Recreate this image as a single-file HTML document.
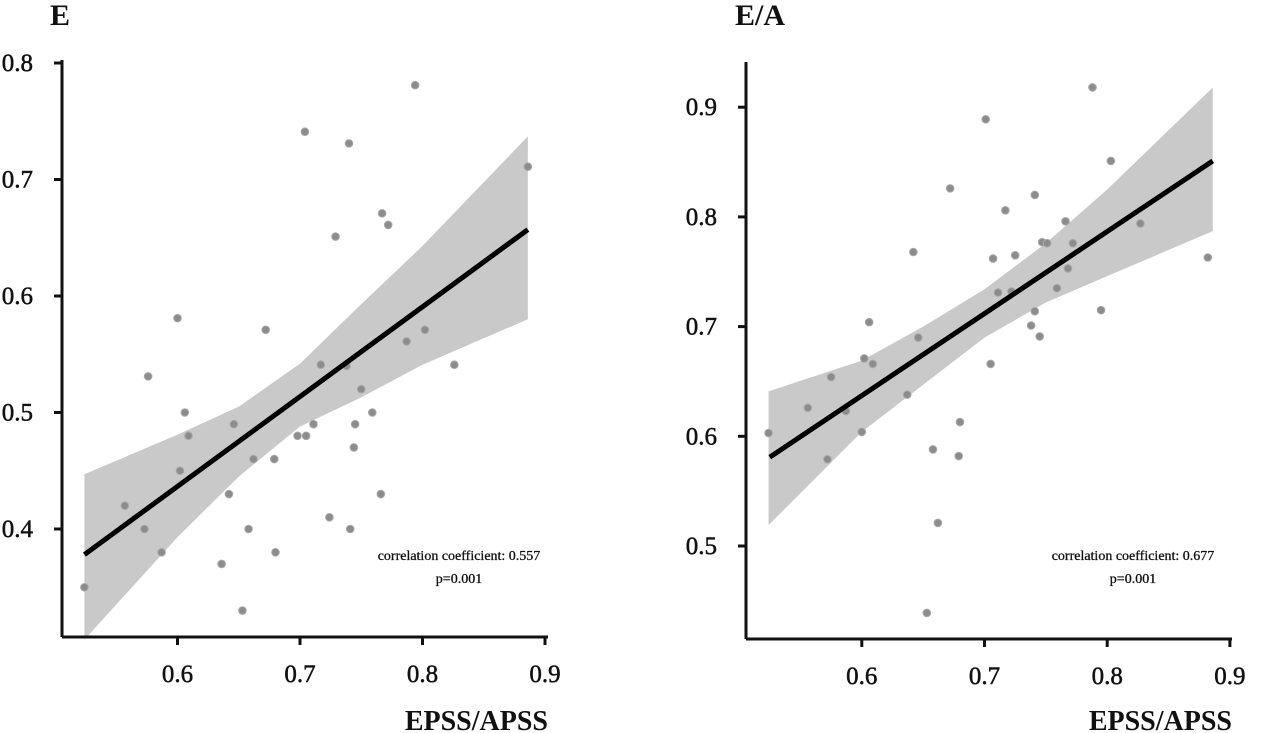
<!DOCTYPE html>
<html><head><meta charset="utf-8"><style>
html,body{margin:0;padding:0;background:#fff}
svg{display:block;font-family:"Liberation Serif",serif}
</style></head><body>
<svg id="chart" width="1269" height="733" viewBox="0 0 1269 733"></svg>
<script>
// ---- Panel E data ----
const eX = [0.794,0.704,0.740,0.886,0.767,0.772,0.729,0.600,0.672,0.802,0.787,0.717,0.826,0.576,0.750,0.606,0.759,0.646,0.711,0.745,0.609,0.698,0.705,0.744,0.662,0.679,0.602,0.642,0.766,0.557,0.724,0.573,0.658,0.741,0.587,0.680,0.636,0.524,0.653,0.738];
const eY = [0.781,0.741,0.731,0.711,0.671,0.661,0.651,0.581,0.571,0.571,0.561,0.541,0.541,0.531,0.520,0.500,0.500,0.490,0.490,0.490,0.480,0.480,0.480,0.470,0.460,0.460,0.450,0.430,0.430,0.420,0.410,0.400,0.400,0.400,0.380,0.380,0.370,0.350,0.330,0.540];
const eFitX = [0.524,0.886];
const eFitY = [0.378,0.657];
const eBandX = [0.524,0.6,0.65,0.7,0.75,0.8,0.886];
const eBandUp = [0.447,0.481,0.505,0.542,0.593,0.643,0.737];
const eBandLo = [0.305,0.393,0.445,0.488,0.513,0.541,0.580];
const eXTicks = [0.6,0.7,0.8,0.9];
const eYTicks = [0.4,0.5,0.6,0.7,0.8];
// ---- Panel E/A data ----
const aX = [0.788,0.701,0.803,0.672,0.741,0.717,0.766,0.827,0.642,0.747,0.751,0.772,0.725,0.707,0.882,0.768,0.759,0.711,0.722,0.741,0.795,0.606,0.738,0.745,0.646,0.602,0.609,0.705,0.575,0.637,0.556,0.587,0.524,0.600,0.680,0.658,0.679,0.572,0.662,0.653];
const aY = [0.918,0.889,0.851,0.826,0.820,0.806,0.796,0.794,0.768,0.777,0.776,0.776,0.765,0.762,0.763,0.753,0.735,0.731,0.732,0.714,0.715,0.704,0.701,0.691,0.690,0.671,0.666,0.666,0.654,0.638,0.626,0.623,0.603,0.604,0.613,0.588,0.582,0.579,0.521,0.439];
const aFitX = [0.525,0.886];
const aFitY = [0.581,0.851];
const aBandX = [0.524,0.6,0.65,0.7,0.75,0.8,0.886];
const aBandUp = [0.641,0.669,0.700,0.734,0.776,0.825,0.918];
const aBandLo = [0.519,0.604,0.647,0.690,0.722,0.746,0.787];
const aXTicks = [0.6,0.7,0.8,0.9];
const aYTicks = [0.5,0.6,0.7,0.8,0.9];

const NS = "http://www.w3.org/2000/svg";
const svg = document.getElementById('chart');
function mk(tag, attrs, parent){
  const el = document.createElementNS(NS, tag);
  for (const k in attrs) el.setAttribute(k, attrs[k]);
  (parent||svg).appendChild(el);
  return el;
}

function panel(cfg){
  const g = mk('g', {});
  
  
  const sx = v => cfg.x0 + (v - cfg.xv0) * cfg.xs;
  const sy = v => cfg.y0 - (v - cfg.yv0) * cfg.ys;
  let d = '';
  cfg.bx.forEach((v,i)=>{ d += (i?'L':'M') + sx(v) + ' ' + sy(cfg.bu[i]) + ' '; });
  for (let i = cfg.bx.length-1; i>=0; i--) d += 'L' + sx(cfg.bx[i]) + ' ' + sy(cfg.bl[i]) + ' ';
  const band = mk('path', {d: d + 'Z', fill:'#c9c9c9'}, g);
  
  
  cfg.px.forEach((v,i)=>{
    const c = mk('circle', {cx: sx(v), cy: sy(cfg.py[i]), r: 3.8, fill:'#8c8c8c', stroke:'#a8a8a8', 'stroke-width':1}, g);
    
    
  });
  const ln = mk('line', {x1: sx(cfg.fx[0]), y1: sy(cfg.fy[0]), x2: sx(cfg.fx[1]), y2: sy(cfg.fy[1]), stroke:'#000', 'stroke-width':5}, g);
  
  
  const ya = mk('line', {x1: cfg.ax, y1: cfg.atop, x2: cfg.ax, y2: cfg.abot, stroke:'#111', 'stroke-width':3}, g);
  
  
  const xa = mk('line', {x1: cfg.ax, y1: cfg.abot, x2: cfg.aright, y2: cfg.abot, stroke:'#111', 'stroke-width':3}, g);
  
  
  cfg.yt.forEach(v=>{
    const y = sy(v);
    mk('line', {x1: cfg.ax-8, y1: y, x2: cfg.ax, y2: y, stroke:'#111', 'stroke-width':3}, g);
    const t = mk('text', {x: cfg.ax-29, y: y+8, 'text-anchor':'end', 'font-size':25, fill:'#111', stroke:'#111', 'stroke-width':0.5}, g);
    t.textContent = v.toFixed(1);
    
    
  });
  cfg.xt.forEach(v=>{
    const x = sx(v);
    mk('line', {x1: x, y1: cfg.abot, x2: x, y2: cfg.abot+8, stroke:'#111', 'stroke-width':3}, g);
    const t = mk('text', {x: x, y: cfg.abot+45, 'text-anchor':'middle', 'font-size':25, fill:'#111', stroke:'#111', 'stroke-width':0.5}, g);
    t.textContent = v.toFixed(1);
    
    
  });
  const ti = mk('text', {x: cfg.tx, y: 25, 'font-size':30, 'font-weight':'bold', fill:'#111'}, g);
  ti.textContent = cfg.title;
  
  
  const xl = mk('text', {x: cfg.aright, y: 730, 'text-anchor':'end', 'font-size':28, 'font-weight':'bold', fill:'#111'}, g);
  xl.textContent = 'EPSS/APSS';
  
  
  const c1 = mk('text', {x: cfg.cx, y: 560, 'text-anchor':'middle', 'font-size':14, fill:'#111', stroke:'#111', 'stroke-width':0.3}, g);
  c1.textContent = cfg.corr;
  
  
  const c2 = mk('text', {x: cfg.cx, y: 583, 'text-anchor':'middle', 'font-size':14, fill:'#111', stroke:'#111', 'stroke-width':0.3}, g);
  c2.textContent = 'p=0.001';
  
  
}

panel({name:'panel-e', x0:177.5, xv0:0.6, xs:1225, y0:529, yv0:0.4, ys:1165,
  ax:62, atop:60, abot:637, aright:548,
  px:eX, py:eY, fx:eFitX, fy:eFitY, bx:eBandX, bu:eBandUp, bl:eBandLo,
  xt:eXTicks, yt:eYTicks, title:'E', tx:50, cx:459, corr:'correlation coefficient: 0.557'});
panel({name:'panel-ea', x0:861.8, xv0:0.6, xs:1227, y0:546, yv0:0.5, ys:1097,
  ax:746, atop:62, abot:639, aright:1232,
  px:aX, py:aY, fx:aFitX, fy:aFitY, bx:aBandX, bu:aBandUp, bl:aBandLo,
  xt:aXTicks, yt:aYTicks, title:'E/A', tx:735, cx:1133, corr:'correlation coefficient: 0.677'});
</script>
</body></html>
